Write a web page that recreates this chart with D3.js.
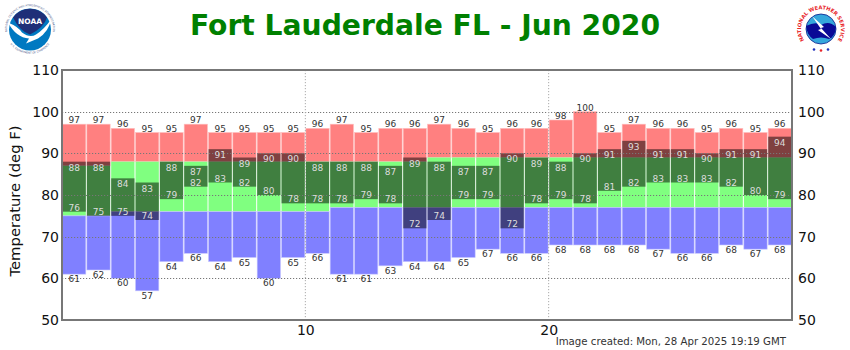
<!DOCTYPE html>
<html>
<head>
<meta charset="utf-8">
<script src="https://cdn.jsdelivr.net/npm/d3@7"></script>
<style>
html, body { margin: 0; padding: 0; background: #fff; }
svg { display: block; font-family: "DejaVu Sans", sans-serif; }
</style>
</head>
<body>
<svg id="chart"></svg>
<script>
var days = d3.range(1, 31);
var recordHigh = [97,97,96,95,95,97,95,95,95,95,96,97,95,96,96,97,96,95,96,96,98,100,95,97,96,96,95,96,95,96];
var recordLow = [61,62,60,57,64,66,64,65,60,65,66,61,61,63,64,64,65,67,66,66,68,68,68,68,67,66,66,68,67,68];
var normalHigh = [87,87,88,88,88,88,88,88,88,88,88,88,88,88,88,89,89,89,89,89,89,89,89,89,89,89,89,89,89,89];
var normalLow = [75,75,76,76,76,76,76,76,76,76,76,77,77,77,77,77,77,77,77,77,77,77,77,77,77,77,77,77,77,77];
var obsHigh = [88,88,84,83,88,87,91,89,90,90,88,88,88,87,89,88,87,87,90,89,88,90,91,93,91,91,90,91,91,94];
var obsLow = [76,75,75,74,79,82,83,82,80,78,78,78,79,78,72,74,79,79,72,78,79,78,81,82,83,83,83,82,80,79];
var yTicks = [50,60,70,80,90,100,110];
var xTicks = [10,20];
var chartTitle = "Fort Lauderdale FL - Jun 2020";
var yTitle = "Temperature (deg F)";
var stamp = "Image created: Mon, 28 Apr 2025 19:19 GMT";

var width = 850, height = 350;
var margin = {top: 70, right: 58, bottom: 30, left: 62};

var svg = d3.select("#chart").attr("width", width).attr("height", height);

var x = d3.scaleLinear().domain([0, 30]).range([margin.left, width - margin.right]);
var y = d3.scaleLinear().domain([50, 110]).range([height - margin.bottom, margin.top]);

// one layer of bars between two value arrays
function bars(lo, hi, fill, edge) {
    svg.append("g").selectAll("rect")
        .data(days)
        .enter().append("rect")
        .attr("x", function(d) { return x(d - 1) + 0.5; })
        .attr("width", x(1) - x(0) - 1)
        .attr("y", function(d, i) { return y(hi[i]); })
        .attr("height", function(d, i) { return y(lo[i]) - y(hi[i]); })
        .attr("fill", fill)
        .attr("stroke", edge)
        .attr("stroke-width", edge ? 0.6 : 0);
}

bars(normalHigh, recordHigh, "#ff8080", "#ffc0c0");
bars(normalLow, normalHigh, "#80ff80", null);
bars(recordLow, normalLow, "#8080ff", "#c8c8ff");
bars(obsLow, obsHigh, "rgba(0,0,0,0.5)", null);

// dotted grid sits on top of the bars
var grid = svg.append("g")
    .attr("stroke", "#777")
    .attr("stroke-width", 1)
    .attr("stroke-dasharray", "1.2,1.8");
grid.selectAll("line.h")
    .data(yTicks.filter(function(d) { return d > 50 && d < 110; }))
    .enter().append("line")
    .attr("x1", x(0)).attr("x2", x(30))
    .attr("y1", function(d) { return Math.round(y(d)) + 0.5; })
    .attr("y2", function(d) { return Math.round(y(d)) + 0.5; });
grid.selectAll("line.v")
    .data(xTicks)
    .enter().append("line")
    .attr("stroke", "#aaa")
    .attr("x1", function(d) { return x(d); })
    .attr("x2", function(d) { return x(d); })
    .attr("y1", y(110)).attr("y2", y(50));

function labels(vals, dy, color) {
    svg.append("g").selectAll("text")
        .data(days)
        .enter().append("text")
        .attr("x", function(d) { return x(d - 0.5); })
        .attr("y", function(d, i) { return y(vals[i]) + dy; })
        .attr("text-anchor", "middle")
        .attr("font-size", 9)
        .attr("fill", color)
        .text(function(d, i) { return vals[i]; });
}

labels(recordHigh, -1, "#333");
labels(obsHigh, 9, "#ddd");
labels(obsLow, -1, "#ddd");
labels(recordLow, 8, "#333");

// frame
svg.append("rect")
    .attr("x", x(0)).attr("y", y(110))
    .attr("width", x(30) - x(0)).attr("height", y(50) - y(110))
    .attr("fill", "none").attr("stroke", "#777").attr("stroke-width", 2);

// axes
function styleAxis(g) {
    g.select(".domain").remove();
    g.selectAll("text").attr("font-size", 14).attr("font-family", "DejaVu Sans").attr("fill", "#111");
}
svg.append("g").attr("transform", "translate(" + x(0) + ",0)")
    .call(d3.axisLeft(y).tickValues(yTicks).tickSize(0).tickPadding(3)).call(styleAxis);
svg.append("g").attr("transform", "translate(" + x(30) + ",0)")
    .call(d3.axisRight(y).tickValues(yTicks).tickSize(0).tickPadding(6)).call(styleAxis);
svg.append("g").attr("transform", "translate(0," + y(50) + ")")
    .call(d3.axisBottom(x).tickValues(xTicks).tickSize(0).tickPadding(5)).call(styleAxis);

svg.append("text")
    .attr("x", width / 2).attr("y", 35)
    .attr("text-anchor", "middle")
    .attr("font-size", 28.2).attr("font-weight", "bold")
    .attr("fill", "#008000")
    .text(chartTitle);

svg.append("text")
    .attr("transform", "translate(20,201) rotate(-90)")
    .attr("text-anchor", "middle")
    .attr("font-size", 14.8).attr("fill", "#111")
    .text(yTitle);

svg.append("text")
    .attr("x", 786).attr("y", 345)
    .attr("text-anchor", "end")
    .attr("font-size", 10.2).attr("fill", "#333")
    .text(stamp);

// NOAA logo, roughly
var noaa = svg.append("g").attr("transform", "translate(30,29.5)");
noaa.append("defs").html('<path id="noaatop" d="M-20,11 A23,23 0 1 1 20,11"/><path id="noaabot" d="M-20,14 A24.5,24.5 0 0 0 20,14"/>');
noaa.append("circle").attr("r", 24.8).attr("fill", "#fff");
noaa.append("circle").attr("r", 21).attr("fill", "#0079c1");
noaa.append("path").attr("d", "M-17,-12 A21,21 0 0 1 17,-12 Q14,-2 0,5 Q-10,2 -17,-12Z").attr("fill", "#1f2f78");
noaa.append("path").attr("d", "M-22,-7 Q-12,-3 -8,3 Q0,9 6,5 Q14,0 21,-10 Q19,2 8,9 L-4,14 L-1,9 Q-14,8 -22,-7Z").attr("fill", "#fff");
noaa.append("text").attr("y", -6).attr("text-anchor", "middle").attr("font-size", 7.5).attr("font-weight", "bold").attr("fill", "#fff").text("NOAA");
noaa.append("text").attr("font-size", 2.7).attr("fill", "#4a5a8c")
    .append("textPath").attr("href", "#noaatop").attr("startOffset", "50%").attr("text-anchor", "middle")
    .text("NATIONAL OCEANIC AND ATMOSPHERIC ADMINISTRATION");
noaa.append("text").attr("font-size", 2.7).attr("fill", "#4a5a8c")
    .append("textPath").attr("href", "#noaabot").attr("startOffset", "50%").attr("text-anchor", "middle")
    .text("U.S. DEPARTMENT OF COMMERCE");

// NWS logo, roughly
var nws = svg.append("g").attr("transform", "translate(821,29)");
nws.append("defs").append("path").attr("id", "nwsring").attr("d", "M-13,15.5 A20,20 0 1 1 13,15.5");
nws.append("text").attr("font-size", 5.2).attr("font-weight", "bold").attr("fill", "#e8252a")
    .append("textPath").attr("href", "#nwsring").attr("startOffset", "50%").attr("text-anchor", "middle")
    .text("NATIONAL WEATHER SERVICE");
nws.append("circle").attr("r", 15).attr("fill", "#35a7dc").attr("stroke", "#0a1a8c").attr("stroke-width", 0.8);
nws.append("path").attr("d", "M-15,-3 Q-5,-8 0,-4 Q8,-9 15,-2 Q14,8 8,10 Q0,7 -8,10 Q-14,6 -15,-3Z").attr("fill", "#0a0a96");
nws.append("path").attr("d", "M-9,-13 L3,-2 L0,-1 L10,10 L-3,1 L0,0Z").attr("fill", "#fff");
nws.selectAll("circle.star").data([-7, 0, 7]).enter().append("circle")
    .attr("cx", function(d) { return d; }).attr("cy", function(d) { return d ? 20.5 : 21.5; }).attr("r", 1.3)
    .attr("fill", function(d) { return d ? "#2233bb" : "#e8252a"; });
</script>
</body>
</html>
